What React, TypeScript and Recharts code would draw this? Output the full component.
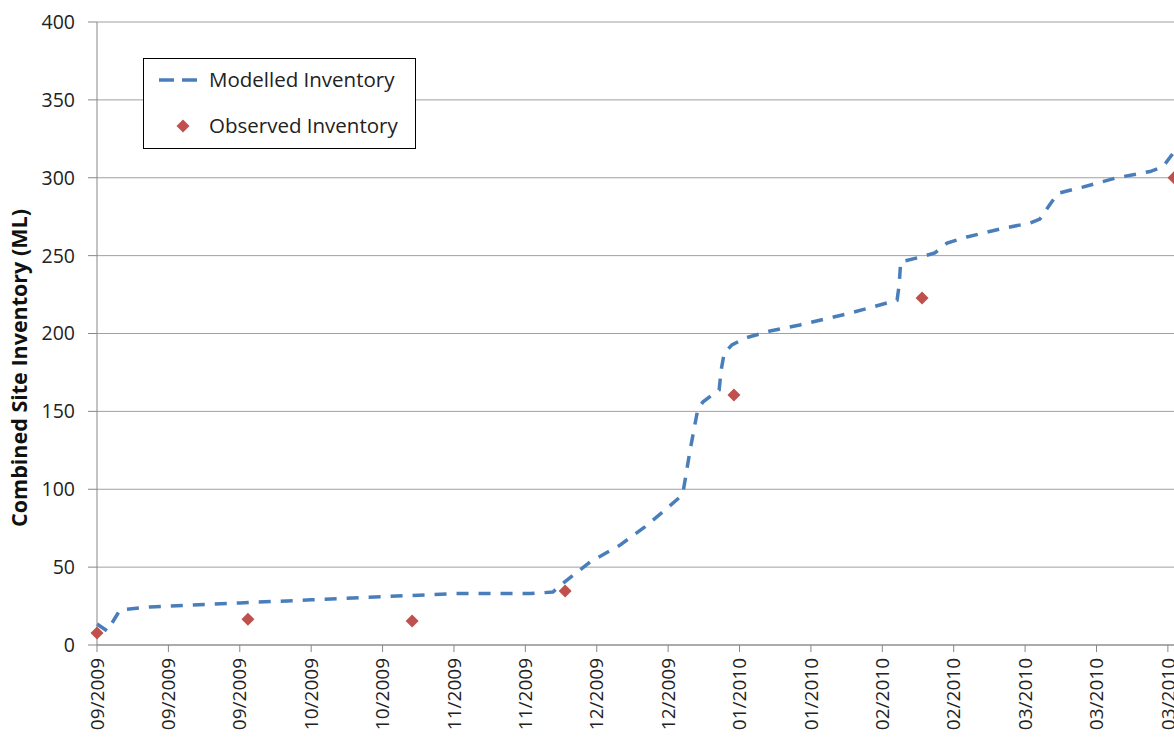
import React from "react";
import {
  ComposedChart,
  Line,
  Scatter,
  XAxis,
  YAxis,
  CartesianGrid,
} from "recharts";

// days counted from 01/09/2009
const tickDays = [0, 14, 28, 42, 56, 70, 84, 98, 112, 126, 140, 154, 168, 182, 196, 210];
const tickLabels = [
  "09/2009", "09/2009", "09/2009", "10/2009", "10/2009", "11/2009", "11/2009", "12/2009",
  "12/2009", "01/2010", "01/2010", "02/2010", "02/2010", "03/2010", "03/2010", "03/2010",
];
const yTicks = [0, 50, 100, 150, 200, 250, 300, 350, 400];

const modelDays = [
  0, 2, 4.5, 10.4, 28, 42, 56, 70, 85, 89.4, 90.8, 93.7, 96.7, 102.5, 107.5, 111.4, 114.3,
  114.9, 116.3, 117.8, 118.8, 121.4, 122, 122.4, 123, 124.5, 127, 132, 137.8, 147.6, 153.5,
  156.9, 157.3, 157.6, 161.4, 164.3, 166.7, 170.6, 177, 183, 184.9, 186.9, 188.4, 193.3, 200,
  206.5, 209, 211.2,
];
const modelValues = [
  13.5, 9, 22.5, 24.4, 27, 29, 31, 33, 33, 34, 38, 45.6, 53.3, 64, 76, 86.7, 95,
  97.6, 125, 151, 156, 162.4, 163.7, 176.6, 187.5, 192.6, 197, 201.6, 205.5, 213, 218.3,
  221.5, 231, 246, 249, 251.7, 258, 262, 267, 271, 273.5, 283, 290, 294, 300,
  304, 307, 316.5,
];

const observedDays = [0, 29.6, 61.8, 91.8, 124.9, 161.8, 211.2];
const observedValues = [7.7, 16.5, 15.4, 34.7, 160.5, 222.8, 300];

const modelled = modelDays.map((day, i) => ({ day, modelled: modelValues[i] }));
const observed = observedDays.map((day, i) => ({ day, observed: observedValues[i] }));

const FONT = "'Open Sans', sans-serif";
const BLUE = "#4a7ebb";
const RED = "#c0504d";

const Diamond = (props: any) => {
  const { cx, cy } = props;
  if (cx == null || cy == null) return null;
  const r = 6.5;
  return (
    <polygon
      points={`${cx},${cy - r} ${cx + r},${cy} ${cx},${cy + r} ${cx - r},${cy}`}
      fill={RED}
    />
  );
};

const XTick = (props: any) => {
  const { x, y, index } = props;
  return (
    <text
      transform={`translate(${x},${y}) rotate(-90)`}
      textAnchor="end"
      dy="0.35em"
      fontFamily={FONT}
      fontSize={19}
      fill="#222"
    >
      {tickLabels[index]}
    </text>
  );
};

// legend drawn as an overlay so it does not take space from the plot
const LegendBox = () => (
  <svg
    width={274}
    height={92}
    style={{ position: "absolute", left: 143, top: 58 }}
  >
    <rect x={0.5} y={0.5} width={272} height={90} fill="#fff" stroke="#000" />
    <line x1={16} y1={22} x2={54} y2={22} stroke={BLUE} strokeWidth={3.5} strokeDasharray="15 8" />
    <text x={66} y={22} dy="0.35em" fontFamily={FONT} fontSize={20.5} fill="#222">
      Modelled Inventory
    </text>
    <polygon points="40,61.5 46.5,68 40,74.5 33.5,68" fill={RED} />
    <text x={66} y={68} dy="0.35em" fontFamily={FONT} fontSize={20.5} fill="#222">
      Observed Inventory
    </text>
  </svg>
);

export default function App() {
  return (
    <div style={{ position: "absolute", left: 0, top: 0, width: 1174, height: 738, overflow: "hidden", background: "#fff" }}>
      <ComposedChart width={1174} height={738} margin={{ top: 22, right: 0, bottom: 0, left: 0 }}>
        <CartesianGrid horizontal vertical={false} stroke="#a0a0a0" />
        <XAxis
          type="number"
          dataKey="day"
          domain={[0, 211.2]}
          ticks={tickDays}
          interval={0}
          height={93}
          tickSize={7}
          tickMargin={6}
          stroke="#878787"
          tick={<XTick />}
        />
        <YAxis
          type="number"
          domain={[0, 400]}
          ticks={yTicks}
          width={97}
          tickSize={9}
          tickMargin={13}
          stroke="#878787"
          tick={{ fontFamily: FONT, fontSize: 19.5, fill: "#222" }}
          label={{
            content: () => (
              <text
                transform="translate(19,368) rotate(-90)"
                textAnchor="middle"
                dy="0.35em"
                fontFamily={FONT}
                fontSize={21.5}
                fontWeight="bold"
                fill="#111"
              >
                Combined Site Inventory (ML)
              </text>
            ),
          }}
        />
        <Line
          data={modelled}
          dataKey="modelled"
          type="linear"
          stroke={BLUE}
          strokeWidth={3.5}
          strokeDasharray="12 10"
          dot={false}
          activeDot={false}
          isAnimationActive={false}
        />
        <Scatter
          data={observed}
          dataKey="observed"
          fill={RED}
          shape={<Diamond />}
          isAnimationActive={false}
        />
      </ComposedChart>
      <LegendBox />
    </div>
  );
}
